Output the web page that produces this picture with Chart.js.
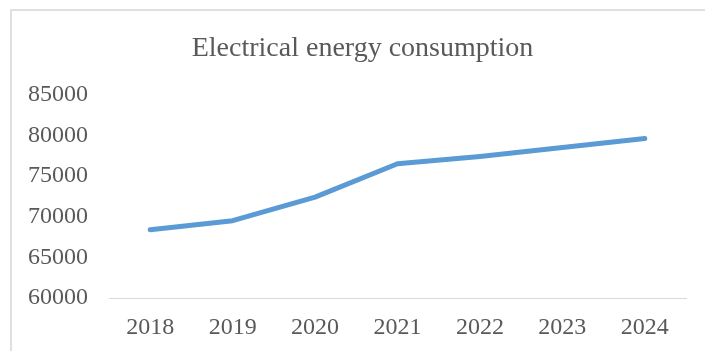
<!DOCTYPE html>
<html lang="en">
<head>
    <meta charset="UTF-8" />
    <title>Electrical energy consumption</title>
    <script src="https://cdn.jsdelivr.net/npm/chart.js"></script>
    <style>
        body { margin: 0; background: #fff; overflow: hidden; }
        .wrap { position: relative; width: 705px; height: 351px; overflow: hidden; }
        .frame {
            position: absolute;
            left: 10px;
            top: 9px;
            width: 800px;
            height: 400px;
            border: 2px solid #e0e0e0;
        }
        canvas { position: absolute; left: 0; top: 0; }
    </style>
</head>
<body>
    <div class="wrap">
        <div class="frame"></div>
        <canvas id="energyChart" width="705" height="351"></canvas>
    </div>

    <script>
        const years = ['2018', '2019', '2020', '2021', '2022', '2023', '2024'];
        const consumption = [68400, 69500, 72400, 76500, 77400, 78500, 79600];
        const yMin = 60000;
        const yMax = 85000;
        const yStep = 5000;

        const textColor = '#595959';
        const serif = "'Liberation Serif', 'Times New Roman', serif";

        // the original title sits a bit right of the plot centre
        const titleShift = {
            id: 'titleShift',
            afterLayout(chart) {
                if (chart.titleBlock) chart.titleBlock.left = 39;
            }
        };

        const ctx = document.getElementById('energyChart').getContext('2d');
        new Chart(ctx, {
            type: 'line',
            data: {
                labels: years,
                datasets: [{
                    label: 'Electrical energy consumption',
                    data: consumption,
                    borderColor: '#5b9bd5',
                    borderWidth: 5,
                    borderCapStyle: 'round',
                    borderJoinStyle: 'round',
                    pointRadius: 0,
                    tension: 0,
                    fill: false
                }]
            },
            plugins: [titleShift],
            options: {
                responsive: false,
                animation: false,
                layout: { padding: { left: 0, right: 19, top: 0, bottom: 9 } },
                plugins: {
                    legend: { display: false },
                    tooltip: { enabled: false },
                    title: {
                        display: true,
                        text: 'Electrical energy consumption',
                        color: textColor,
                        font: { family: serif, size: 28, weight: 'normal' },
                        padding: { top: 32, bottom: 29 }
                    }
                },
                scales: {
                    x: {
                        offset: true,
                        grid: { display: false, drawTicks: false },
                        border: { display: true, color: '#d9d9d9', width: 1 },
                        ticks: {
                            color: textColor,
                            font: { family: serif, size: 24 },
                            padding: 15,
                            maxRotation: 0
                        },
                        afterFit: scale => { scale.height = 44; }
                    },
                    y: {
                        min: yMin,
                        max: yMax,
                        grid: { display: false, drawTicks: false },
                        border: { display: false },
                        ticks: {
                            stepSize: yStep,
                            color: textColor,
                            font: { family: serif, size: 24 },
                            padding: 21,
                            callback: v => String(v)
                        },
                        afterFit: scale => { scale.width = 109; }
                    }
                }
            }
        });
    </script>
</body>
</html>
